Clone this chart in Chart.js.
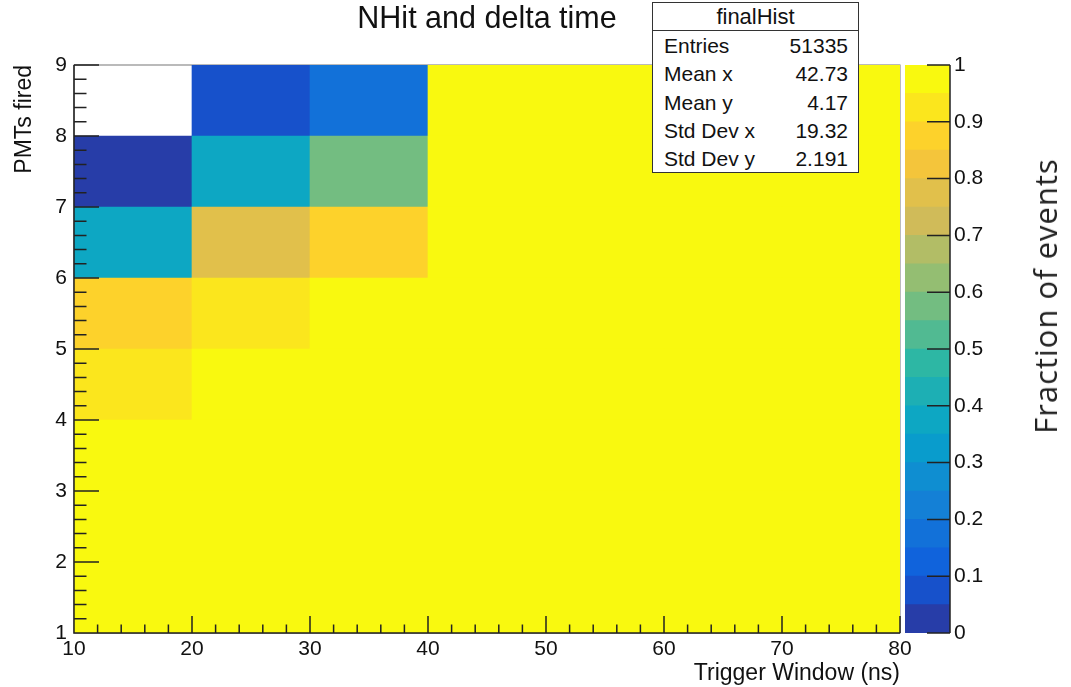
<!DOCTYPE html>
<html lang="en">
  <head>
    <meta charset="UTF-8" />
    <title>NHit and delta time</title>
    <script src="https://cdn.jsdelivr.net/npm/chart.js"></script>
    <style>
      body { margin: 0; background: #fff; }
      .quadro { position: relative; width: 1071px; height: 687px; font-family: "Liberation Sans", Arial, sans-serif; color: #111; }
      #grafico { position: absolute; left: 0; top: 0; }
      #paleta { position: absolute; left: 903px; top: 0; }
      .titulo { position: absolute; left: 487px; top: 2px; transform: translateX(-50%); font-size: 30.5px; line-height: 30px; white-space: nowrap; }
      .stats { position: absolute; left: 652px; top: 2px; width: 205px; height: 169px; border: 1px solid #333; background: #fff; font-size: 21px; }
      .stats .cab { position: absolute; left: 0; right: 0; top: 0; height: 27px; line-height: 27px; text-align: center; font-size: 22px; border-bottom: 1px solid #333; }
      .stats .linha { position: absolute; left: 11px; right: 10px; height: 28px; line-height: 28px; }
      .stats .linha span:last-child { position: absolute; right: 0; }
      .ztitulo { position: absolute; left: 1045px; top: 296px; transform: translate(-50%, -50%) rotate(-90deg); font-family: "Open Sans", sans-serif; font-size: 31px; letter-spacing: 1px; white-space: nowrap; color: #222; }
    </style>
  </head>
  <body>
    <div class="quadro">
      <canvas id="grafico" width="1071" height="687"></canvas>
      <canvas id="paleta" width="168" height="687"></canvas>
      <div class="titulo">NHit and delta time</div>
      <div class="stats" id="stats"></div>
      <div class="ztitulo">Fraction of events</div>
    </div>

    <script>
      // bins do trigger window (ns) e PMTs disparados
      const windowBins = ["10-20", "20-30", "30-40", "40-50", "50-60", "60-70", "70-80"];
      const pmtLow = [1, 2, 3, 4, 5, 6, 7, 8];

      // fracao de eventos por linha (PMTs fired), 0 = bin vazio
      const pmt1 = [1, 1, 1, 1, 1, 1, 1];
      const pmt2 = [1, 1, 1, 1, 1, 1, 1];
      const pmt3 = [1, 1, 1, 1, 1, 1, 1];
      const pmt4 = [0.93, 1, 1, 1, 1, 1, 1];
      const pmt5 = [0.88, 0.93, 1, 1, 1, 1, 1];
      const pmt6 = [0.38, 0.78, 0.88, 1, 1, 1, 1];
      const pmt7 = [0.03, 0.38, 0.58, 1, 1, 1, 1];
      const pmt8 = [0, 0.08, 0.18, 1, 1, 1, 1];
      const fractionRows = [pmt1, pmt2, pmt3, pmt4, pmt5, pmt6, pmt7, pmt8];

      // ticks dos eixos
      const xTicks = [10, 20, 30, 40, 50, 60, 70, 80];
      const yTicks = [1, 2, 3, 4, 5, 6, 7, 8, 9];
      const zTicks = [0, 0.1, 0.2, 0.3, 0.4, 0.5, 0.6, 0.7, 0.8, 0.9, 1];
      const zLevels = [0, 0.05, 0.1, 0.15, 0.2, 0.25, 0.3, 0.35, 0.4, 0.45, 0.5,
                       0.55, 0.6, 0.65, 0.7, 0.75, 0.8, 0.85, 0.9, 0.95, 1];

      // caixa de estatisticas
      const statNames = ["Entries", "Mean x", "Mean y", "Std Dev x", "Std Dev y"];
      const statValues = ["51335", "42.73", "4.17", "19.32", "2.191"];

      // paleta kBird do ROOT
      const birdStops = [0, 0.125, 0.25, 0.375, 0.5, 0.625, 0.75, 0.875, 1];
      const birdR = [0.2082, 0.0592, 0.0780, 0.0232, 0.1802, 0.5301, 0.8186, 0.9956, 0.9764];
      const birdG = [0.1664, 0.3599, 0.5041, 0.6419, 0.7178, 0.7492, 0.7328, 0.7862, 0.9832];
      const birdB = [0.5293, 0.8684, 0.8385, 0.7914, 0.6425, 0.4662, 0.3499, 0.1968, 0.0539];

      function corBanda(i) {
        var nBandas = zLevels.length - 1;
        var t = Math.floor((i + 0.99) * 255 / nBandas) / 255;
        var g = 1;
        while (g < birdStops.length - 1 && t > birdStops[g]) g++;
        var f = (t - birdStops[g - 1]) / (birdStops[g] - birdStops[g - 1]);
        var c = (arr) => Math.round(255 * (arr[g - 1] + f * (arr[g] - arr[g - 1])));
        return `rgb(${c(birdR)}, ${c(birdG)}, ${c(birdB)})`;
      }

      function corValor(v) {
        if (v <= 0) return "rgba(0,0,0,0)";
        var nBandas = zLevels.length - 1;
        var i = 0;
        while (i < nBandas - 1 && v >= zLevels[i + 1]) i++;
        return corBanda(i);
      }

      var fonteTick = { family: "'Liberation Sans', Arial, sans-serif", size: 21 };

      // eixos e ticks desenhados para dentro, estilo ROOT
      const eixosRoot = {
        id: "eixosRoot",
        beforeDatasetsDraw(chart) {
          const { ctx, chartArea: a } = chart;
          ctx.save();
          ctx.strokeStyle = "#777";
          ctx.lineWidth = 1;
          ctx.strokeRect(a.left, a.top, a.right - a.left, a.bottom - a.top);
          ctx.restore();
        },
        afterDatasetsDraw(chart) {
          const { ctx, chartArea: a, scales } = chart;
          const x = scales.x, y = scales.y;
          ctx.save();
          ctx.strokeStyle = "#222";
          ctx.lineWidth = 1.5;
          ctx.beginPath();
          ctx.moveTo(a.left, a.top);
          ctx.lineTo(a.left, a.bottom);
          ctx.lineTo(a.right, a.bottom);
          for (var v = 1; v <= 9.001; v += 0.2) {
            var py = y.getPixelForValue(v);
            var major = Math.abs(v - Math.round(v)) < 0.01;
            ctx.moveTo(a.left, py);
            ctx.lineTo(a.left + (major ? 25 : 12.5), py);
          }
          for (var u = 10; u <= 80.001; u += 2) {
            var px = x.getPixelForValue(u);
            var maj = Math.abs(u / 10 - Math.round(u / 10)) < 0.01;
            ctx.moveTo(px, a.bottom);
            ctx.lineTo(px, a.bottom - (maj ? 17 : 8.5));
          }
          ctx.stroke();
          ctx.restore();
        },
      };

      new Chart(document.getElementById("grafico"), {
        type: "bar",
        data: {
          labels: windowBins,
          datasets: fractionRows.map((row, j) => ({
            label: "PMTs " + pmtLow[j],
            data: row.map(() => [pmtLow[j], pmtLow[j] + 1]),
            backgroundColor: row.map(corValor),
            xAxisID: "xc",
            grouped: false,
            barPercentage: 1,
            categoryPercentage: 1,
          })),
        },
        options: {
          responsive: false,
          animation: false,
          devicePixelRatio: 1,
          layout: { padding: { left: 0, top: 65, right: 171, bottom: 0 } },
          plugins: { legend: { display: false }, tooltip: { enabled: false } },
          scales: {
            xc: { type: "category", axis: "x", display: false },
            x: {
              type: "linear",
              position: "bottom",
              offset: false,
              min: 10,
              max: 80,
              afterBuildTicks: (s) => { s.ticks = xTicks.map((v) => ({ value: v })); },
              afterFit: (s) => { s.height = 54; },
              grid: { display: false, drawTicks: false, offset: false },
              border: { display: false },
              ticks: { font: fonteTick, color: "#111", padding: 4, maxRotation: 0, autoSkip: false },
              title: {
                display: true,
                text: "Trigger Window (ns)",
                align: "end",
                color: "#111",
                font: { family: "'Liberation Sans', Arial, sans-serif", size: 23 },
                padding: { top: 0, bottom: 0 },
              },
            },
            y: {
              type: "linear",
              min: 1,
              max: 9,
              afterBuildTicks: (s) => { s.ticks = yTicks.map((v) => ({ value: v })); },
              afterFit: (s) => { s.width = 74; },
              grid: { display: false, drawTicks: false },
              border: { display: false },
              ticks: { font: fonteTick, color: "#111", padding: 7 },
              title: {
                display: true,
                text: "PMTs fired",
                align: "end",
                color: "#111",
                font: { family: "'Liberation Sans', Arial, sans-serif", size: 23 },
                padding: { top: 11, bottom: 0 },
              },
            },
          },
        },
        plugins: [eixosRoot],
      });

      // ticks da paleta, para dentro a partir da borda direita
      const eixoPaleta = {
        id: "eixoPaleta",
        afterDatasetsDraw(chart) {
          const { ctx, chartArea: a, scales } = chart;
          ctx.save();
          ctx.strokeStyle = "#222";
          ctx.lineWidth = 1.5;
          ctx.beginPath();
          ctx.moveTo(a.right, a.top);
          ctx.lineTo(a.right, a.bottom);
          zTicks.forEach((v) => {
            var py = scales.y.getPixelForValue(v);
            ctx.moveTo(a.right, py);
            ctx.lineTo(a.right - 23, py);
          });
          ctx.stroke();
          ctx.restore();
        },
      };

      new Chart(document.getElementById("paleta"), {
        type: "bar",
        data: {
          labels: ["z"],
          datasets: zLevels.slice(1).map((hi, i) => ({
            data: [[zLevels[i], hi]],
            backgroundColor: corBanda(i),
            grouped: false,
            barPercentage: 1,
            categoryPercentage: 1,
          })),
        },
        options: {
          responsive: false,
          animation: false,
          devicePixelRatio: 1,
          layout: { padding: { left: 2, top: 65, right: 0, bottom: 54 } },
          plugins: { legend: { display: false }, tooltip: { enabled: false } },
          scales: {
            x: { display: false },
            y: {
              position: "right",
              min: 0,
              max: 1,
              afterBuildTicks: (s) => { s.ticks = zTicks.map((v) => ({ value: v })); },
              afterFit: (s) => { s.width = 121; },
              grid: { display: false, drawTicks: false },
              border: { display: false },
              ticks: { font: fonteTick, color: "#111", padding: 4, callback: (v) => String(v) },
            },
          },
        },
        plugins: [eixoPaleta],
      });

      // preencher caixa de estatisticas
      var stats = document.getElementById("stats");
      var html = '<div class="cab">finalHist</div>';
      for (var i = 0; i < statNames.length; i++) {
        html += `<div class="linha" style="top:${29 + i * 28.3}px"><span>${statNames[i]}</span><span>${statValues[i]}</span></div>`;
      }
      stats.innerHTML = html;
    </script>
  </body>
</html>
